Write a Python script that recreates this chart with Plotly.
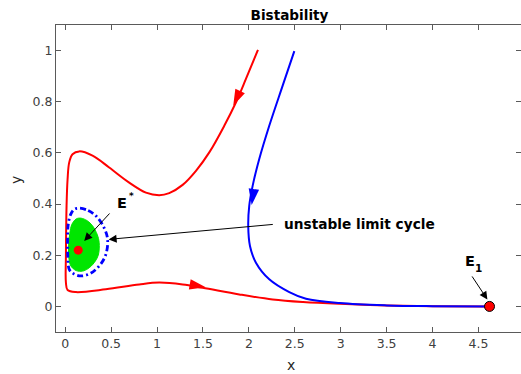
import plotly.graph_objects as go

# ---- data ----
red_x = [2.099, 1.968, 1.860, 1.732, 1.569, 1.424, 1.279, 1.133, 1.024, 0.879, 0.697, 0.479,
         0.298, 0.153, 0.080, 0.044, 0.026, 0.015, 0.008, 0.008, 0.026, 0.117, 0.443, 0.806,
         1.024, 1.279, 1.497, 1.895, 2.259, 2.59, 2.99, 3.5, 4.0, 4.62]
red_y = [1.003, 0.889, 0.798, 0.706, 0.602, 0.530, 0.475, 0.443, 0.435, 0.445, 0.484, 0.543,
         0.589, 0.606, 0.595, 0.563, 0.497, 0.393, 0.197, 0.093, 0.064, 0.056, 0.067, 0.086,
         0.093, 0.086, 0.073, 0.047, 0.027, 0.017, 0.010, 0.004, 0.001, 0.0]

blue_x = [2.495, 2.368, 2.222, 2.113, 2.041, 2.004, 1.993, 2.012, 2.077, 2.222, 2.44, 2.622,
          2.99, 3.5, 4.0, 4.62]
blue_y = [0.998, 0.863, 0.706, 0.576, 0.471, 0.393, 0.315, 0.236, 0.171, 0.106, 0.056, 0.030,
          0.013, 0.004, 0.001, 0.0]

cycle_x = [0.153, 0.25, 0.334, 0.42, 0.462, 0.44, 0.37, 0.27, 0.171, 0.09, 0.044, 0.028,
           0.026, 0.033, 0.06, 0.10, 0.153]
cycle_y = [0.384, 0.375, 0.354, 0.31, 0.262, 0.20, 0.158, 0.128, 0.119, 0.128, 0.145, 0.20,
           0.262, 0.32, 0.36, 0.38, 0.384]

basin_x = [0.171, 0.24, 0.298, 0.35, 0.37, 0.36, 0.316, 0.25, 0.19, 0.12, 0.062, 0.04,
           0.037, 0.05, 0.073, 0.12, 0.171]
basin_y = [0.345, 0.335, 0.315, 0.28, 0.25, 0.20, 0.171, 0.148, 0.138, 0.14, 0.158, 0.19,
           0.236, 0.285, 0.321, 0.342, 0.345]

estar = (0.142, 0.22)
e1 = (4.62, 0.0)

# direction arrows on trajectories: x, y, heading (deg, clockwise from up)
red_arrow_x = [1.83, 1.53]
red_arrow_y = [0.785, 0.075]
red_arrow_ang = [205, 100]
blue_arrow_x = [2.03]
blue_arrow_y = [0.396]
blue_arrow_ang = [188]

xticks = [0, 0.5, 1, 1.5, 2, 2.5, 3, 3.5, 4, 4.5]
yticks = [0, 0.2, 0.4, 0.6, 0.8, 1]

FONT = "DejaVu Sans, Liberation Sans, Arial, sans-serif"

fig = go.Figure()

fig.add_trace(go.Scatter(x=basin_x, y=basin_y, mode="lines", fill="toself",
                         fillcolor="#00e600", line=dict(color="#00e600", width=1, shape="spline"),
                         hoverinfo="skip"))
fig.add_trace(go.Scatter(x=red_x, y=red_y, mode="lines",
                         line=dict(color="#ff0000", width=2, shape="spline", smoothing=1)))
fig.add_trace(go.Scatter(x=blue_x, y=blue_y, mode="lines",
                         line=dict(color="#0000ff", width=2, shape="spline", smoothing=1)))
fig.add_trace(go.Scatter(x=cycle_x, y=cycle_y, mode="lines",
                         line=dict(color="#0000ff", width=2.8, dash="6px,3px,2px,3px",
                                   shape="spline")))
fig.add_trace(go.Scatter(x=red_arrow_x, y=red_arrow_y, mode="markers",
                         marker=dict(symbol="arrow", size=17, color="#ff0000",
                                     angle=red_arrow_ang, line=dict(width=0))))
fig.add_trace(go.Scatter(x=blue_arrow_x, y=blue_arrow_y, mode="markers",
                         marker=dict(symbol="arrow", size=17, color="#0000ff",
                                     angle=blue_arrow_ang, line=dict(width=0))))
fig.add_trace(go.Scatter(x=[estar[0]], y=[estar[1]], mode="markers",
                         marker=dict(size=9, color="#ff0000", line=dict(width=0))))
fig.add_trace(go.Scatter(x=[e1[0]], y=[e1[1]], mode="markers", cliponaxis=False,
                         marker=dict(size=10, color="#ff0000", line=dict(width=1, color="#000000"))))

ann = []
# pointer arrows (head x, head y, tail x, tail y)
for (hx, hy, tx, ty) in [(0.207, 0.256, 0.498, 0.369),
                         (0.473, 0.262, 2.277, 0.321),
                         (4.597, 0.027, 4.42, 0.123)]:
    ann.append(dict(x=hx, y=hy, ax=tx, ay=ty, xref="x", yref="y", axref="x", ayref="y",
                    text="", showarrow=True, arrowhead=2, arrowsize=1.6, arrowwidth=1,
                    arrowcolor="#000000", standoff=0, startstandoff=0))
bold = dict(family=FONT, color="#000000")
ann.append(dict(x=0.614, y=0.405, xref="x", yref="y", text="<b>E</b>",
                showarrow=False, font=dict(size=14.5, **bold)))
ann.append(dict(x=0.72, y=0.432, xref="x", yref="y", text="<b>*</b>",
                showarrow=False, font=dict(size=9, **bold)))
ann.append(dict(x=2.357, y=0.321, xref="x", yref="y", xanchor="left",
                text="<b>unstable limit cycle</b>",
                showarrow=False, font=dict(size=13.7, **bold)))
ann.append(dict(x=4.405, y=0.179, xref="x", yref="y", text="<b>E</b>",
                showarrow=False, font=dict(size=14.5, **bold)))
ann.append(dict(x=4.503, y=0.150, xref="x", yref="y", text="<b>1</b>",
                showarrow=False, font=dict(size=10.5, **bold)))
# axis labels
ann.append(dict(x=(290.8 - 56) / 465, y=(332 - 365) / 307, xref="paper", yref="paper",
                text="x", showarrow=False, yanchor="middle",
                font=dict(family=FONT, size=14, color="#262626")))
ann.append(dict(x=(16 - 56) / 465, y=(332 - 180) / 307, xref="paper", yref="paper",
                text="y", showarrow=False, textangle=-90, xanchor="center", yanchor="middle",
                font=dict(family=FONT, size=14, color="#262626")))

axis_common = dict(showgrid=False, zeroline=False, showline=True, linecolor="#5a5a5a",
                   linewidth=1, mirror="ticks", ticks="inside", ticklen=5, tickcolor="#5a5a5a",
                   tickfont=dict(family=FONT, size=12.5, color="#404040"))

fig.update_layout(
    width=521, height=374,
    margin=dict(l=56, r=0, t=25, b=42),
    paper_bgcolor="white", plot_bgcolor="white",
    showlegend=False,
    title=dict(text="<b>Bistability</b>", x=289.5 / 521, xanchor="center", xref="container",
               y=1 - 15 / 374, yanchor="middle", yref="container",
               font=dict(family=FONT, size=13.6, color="#000000")),
    xaxis=dict(range=[-0.1, 4.963], tickvals=xticks, ticktext=[f"{v:g}" for v in xticks],
               **axis_common),
    yaxis=dict(range=[-0.1, 1.1], tickvals=yticks, ticktext=[f"{v:g}" for v in yticks],
               **axis_common),
    annotations=ann,
)

fig.write_html("out.html")
